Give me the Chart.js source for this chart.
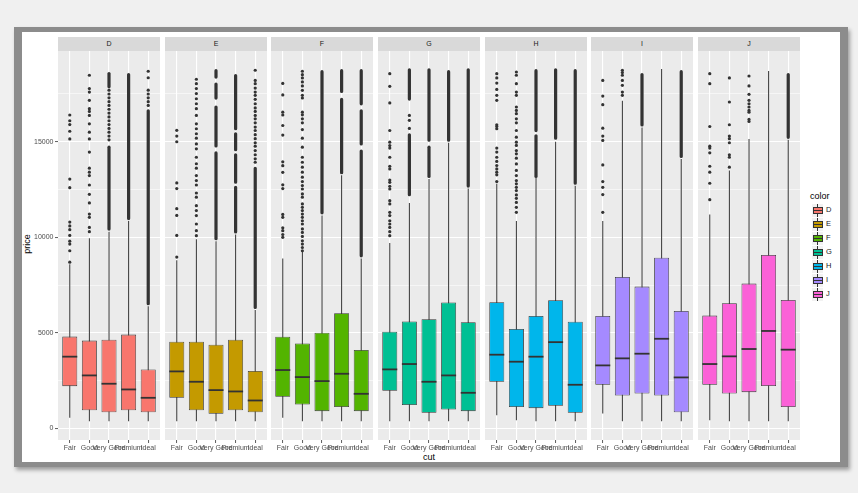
<!DOCTYPE html>
<html>
<head>
<meta charset="utf-8">
<script src="https://cdn.jsdelivr.net/npm/chart.js@4.4.1/dist/chart.umd.min.js"></script>
<style>
  html, body { margin: 0; padding: 0; }
  body {
    width: 858px; height: 493px; position: relative; overflow: hidden;
    background: #f0f0f0; font-family: "Liberation Sans", Arial, sans-serif;
  }
  #frame {
    position: absolute; left: 14px; top: 27px; width: 834px; height: 440px;
    background: #8c8c8c; box-shadow: 2px 3px 4px rgba(0,0,0,0.35);
  }
  #paper { position: absolute; left: 22px; top: 32px; width: 818px; height: 430px; background: #fff; }
  .strip {
    position: absolute; top: 37px; height: 14px; line-height: 14px; background: #d9d9d9;
    text-align: center; font-size: 7px; color: #1a1a1a;
  }
  canvas { position: absolute; top: 51px; }
  .title { position: absolute; font-size: 9px; color: #000; white-space: nowrap; }
  .key { position: absolute; left: 812px; width: 11px; height: 13px; background: #f2f2f2; }
  .key .wh { position: absolute; left: 5px; top: 0; width: 1px; height: 13px; background: #333; }
  .key .bx { position: absolute; left: 1px; top: 3px; width: 8px; height: 5px; border: 0.8px solid #333; }
  .key .md { position: absolute; left: 1px; top: 6px; width: 10px; height: 1.3px; background: #333; }
  .klab { position: absolute; left: 826px; font-size: 7.5px; color: #1a1a1a; }
</style>
</head>
<body>
<div id="frame"></div>
<div id="paper"></div>
<div class="title" id="ytitle" style="left:7px; top:239px; width:40px; text-align:center; transform:rotate(-90deg);">price</div>
<div class="title" style="left:409px; top:452px; width:40px; text-align:center;">cut</div>
<div class="title" style="left:810px; top:191px;">color</div>

<script>
// Data

const cuts   = ['Fair', 'Good', 'Very Good', 'Premium', 'Ideal'];
const colors = ['D', 'E', 'F', 'G', 'H', 'I', 'J'];
const yTickVals = [0, 2500, 5000, 7500, 10000, 12500, 15000, 17500];

// one row per color, one value per cut
const lower = [
  [561, 383, 383, 383, 383],
  [385, 385, 385, 385, 385],
  [560, 385, 385, 385, 385],
  [385, 385, 385, 385, 385],
  [694, 437, 385, 385, 385],
  [786, 385, 385, 385, 385],
  [437, 385, 385, 385, 385]
];
const q1 = [
  [2218, 960, 855, 960, 855],
  [1608, 961, 769, 961, 856],
  [1660, 1253, 909, 1125, 909],
  [1975, 1230, 821, 996, 909],
  [2447, 1125, 1066, 1188, 821],
  [2290, 1730, 1835, 1730, 856],
  [2290, 1835, 1905, 2220, 1125]
];
const median = [
  [3760, 2779, 2344, 2045, 1608],
  [2989, 2447, 2010, 1940, 1468],
  [3060, 2692, 2482, 2866, 1817],
  [3094, 3374, 2447, 2779, 1870],
  [3863, 3496, 3759, 4520, 2290],
  [3303, 3671, 3915, 4696, 2674],
  [3374, 3776, 4160, 5104, 4126]
];
const q3 = [
  [4809, 4599, 4651, 4914, 3094],
  [4545, 4545, 4387, 4650, 3007],
  [4800, 4452, 5017, 6029, 4108],
  [5069, 5600, 5716, 6590, 5566],
  [6607, 5210, 5891, 6713, 5584],
  [5891, 7932, 7424, 8935, 6153],
  [5908, 6555, 7581, 9075, 6730]
];
const upper = [
  [8600, 9950, 10300, 10850, 6400],
  [8800, 9900, 9800, 10150, 6200],
  [8900, 9250, 11150, 13250, 8900],
  [9700, 11800, 13050, 14950, 12550],
  [12800, 10850, 13100, 15000, 12700],
  [10850, 17150, 15750, 18800, 14100],
  [11200, 13500, 15150, 18700, 15100]
];

// single outlier points, per color, per cut
const outliers = [
  [ // D
    [16400, 16100, 15900, 15550, 15150, 13050, 12600, 10800, 10600, 10400, 10100, 9800, 9650, 9300, 8700],
    [18480, 17780, 17600, 17170, 16730, 16590, 16380, 15940, 15500, 15150, 14460, 13620, 13410, 13230, 12740, 12250, 11800, 11220, 11050, 10520, 10300],
    [17700, 17500, 17300, 17100, 16900, 16700, 16500, 16300, 16100, 15900, 15700, 15500, 15300, 15100],
    [],
    [18690, 18350, 17700, 17500, 17300, 17100, 16900]
  ],
  [ // E
    [15600, 15300, 15000, 12850, 12550, 11500, 11150, 10100, 8970],
    [18270, 18040, 17780, 17520, 17250, 16990, 16730, 16380, 15940, 15680, 15420, 15190, 14890, 14630, 14190, 13850, 13620, 13230, 12970, 12740, 12320, 12100, 11660, 11400, 11140, 10700, 10350, 10090],
    [],
    [],
    [18740, 18210, 18040, 17810, 17600, 17430, 17220, 16990, 16770, 16590, 16380, 16200, 15990, 15770, 15590, 15370, 15160, 14950, 14770, 14540, 14320, 14110, 13930]
  ],
  [ // F
    [18050, 17450, 16550, 16400, 15850, 15350, 13950, 13750, 13400, 12750, 12550, 11200, 11050, 10500, 10350, 10150, 10000],
    [18690, 18510, 18340, 18130, 17920, 17690, 17430, 17290, 16550, 16410, 16200, 15990, 15640, 15190, 14720, 14190, 13930, 13670, 13410, 13150, 12920, 12710, 12530, 12270, 12100, 11750, 11570, 11400, 11220, 11050, 10870, 10700, 10440, 10260, 10050, 9820, 9650, 9470, 9300],
    [],
    [],
    []
  ],
  [ // G
    [18560, 17900, 17030, 15590, 14980, 14800, 14670, 14190, 13720, 13580, 13000, 12880, 12670, 12530, 11920, 11750, 11310, 11140, 10870, 10700, 10520, 10300, 10090],
    [16380, 16120, 15700],
    [],
    [],
    []
  ],
  [ // H
    [18560, 18340, 18070, 17740, 17430, 17170, 15890, 15800, 15680, 14670, 14460, 14190, 13970, 13760, 13580, 13410, 13270, 12920],
    [18650, 18480, 18040, 17600, 17430, 16820, 16640, 16470, 16200, 15990, 15590, 15240, 14980, 14810, 14540, 14370, 14140, 13840, 13500, 13230, 12970, 12800, 12620, 12450, 12220, 12040, 11830, 11570, 11310],
    [],
    [],
    []
  ],
  [ // I
    [18210, 17390, 16940, 15710, 15300, 15070, 13790, 12920, 12620, 12240, 11310],
    [18740, 18620, 18480, 18210, 17950, 17600, 17430],
    [],
    [],
    []
  ],
  [ // J
    [18560, 18040, 15800, 14770, 14670, 14420, 13720, 13410, 12830, 11970],
    [18340, 17080, 15890, 15300, 15160, 14950, 14320, 14190, 13670],
    [18440, 17920, 17480, 17170, 16990, 16820, 16640, 16550, 16170, 16060],
    [],
    []
  ]
];

// stretches where outliers are packed into a solid column: [from, to]
const outlierRuns = [
  [[], [], [[10350, 14800], [17800, 18650]], [[10900, 18600]], [[6450, 16700]]],
  [[], [], [[9850, 14500], [14700, 16900], [17200, 18100], [18300, 18800]], [[10200, 12700], [12800, 14400], [14500, 15500], [15600, 18550]], [[6250, 13700]]],
  [[], [], [[11200, 18750]], [[13300, 17300], [17550, 18800]], [[8950, 14600], [14800, 16700], [16900, 18800]]],
  [[], [[12150, 15450], [17150, 18850]], [[13100, 14800], [15000, 18850]], [[15000, 18750]], [[12600, 18850]]],
  [[], [], [[13100, 15400], [15500, 18800]], [[15100, 18850]], [[12750, 18800]]],
  [[], [], [[15800, 18600]], [], [[14150, 18750]]],
  [[], [], [], [], [[15150, 18600]]]
];

// Style

const fills = ['#F8766D', '#C49A00', '#53B400', '#00C094', '#00B6EB', '#A58AFF', '#FB61D7'];
const panelLefts = [58, 165, 271, 378, 485, 591, 698];
const panelWidth = 102;
const ink = '#333333';

Chart.defaults.font.family = '"Liberation Sans", Arial, sans-serif';
Chart.defaults.font.size = 7;
Chart.defaults.color = '#4D4D4D';

const panelBg = {
  id: 'panelBg',
  beforeDraw(chart) {
    const { ctx, chartArea: a } = chart;
    ctx.save();
    ctx.fillStyle = '#EBEBEB';
    ctx.fillRect(a.left, a.top, a.width, a.height);
    ctx.restore();
  }
};

const isMajor = v => v % 5000 === 0;
const isCut = v => Number.isInteger(v) && v >= 1 && v <= cuts.length;

function buildDatasets(ci) {
  const meds = [], boxes = [], whiskers = [], pts = [], bands = [];
  cuts.forEach((c, k) => {
    const x = k + 1;
    whiskers.push({ x, y: [lower[ci][k], upper[ci][k]] });
    boxes.push({ x, y: [q1[ci][k], q3[ci][k]] });
    meds.push({ x, y: median[ci][k] });
    outliers[ci][k].forEach(v => pts.push({ x, y: v }));
    outlierRuns[ci][k].forEach(r => bands.push({ x, y: r }));
  });
  return [
    { type: 'scatter', data: meds, pointStyle: 'line', pointRadius: 7.5,
      pointBorderColor: ink, pointBorderWidth: 1.8 },
    { type: 'bar', data: boxes, backgroundColor: fills[ci], borderColor: ink,
      borderWidth: 0.8, borderSkipped: false, barThickness: 15, grouped: false, inflateAmount: 0 },
    { type: 'scatter', data: pts, pointRadius: 1.6, pointBackgroundColor: ink, pointBorderWidth: 0 },
    { type: 'bar', data: bands, backgroundColor: ink, barThickness: 3.2, borderRadius: 1.6,
      borderSkipped: false, grouped: false, inflateAmount: 0 },
    { type: 'bar', data: whiskers, backgroundColor: ink, barThickness: 1, grouped: false, inflateAmount: 0 }
  ];
}

function makePanel(ci) {
  const first = ci === 0;
  const left = first ? 22 : panelLefts[ci];
  const width = first ? panelLefts[0] - 22 + panelWidth : panelWidth;

  const strip = document.createElement('div');
  strip.className = 'strip';
  strip.style.left = panelLefts[ci] + 'px';
  strip.style.width = panelWidth + 'px';
  strip.textContent = colors[ci];
  document.body.appendChild(strip);

  const canvas = document.createElement('canvas');
  canvas.width = width;
  canvas.height = 402;
  canvas.style.left = left + 'px';
  document.body.appendChild(canvas);

  new Chart(canvas, {
    type: 'bar',
    data: { datasets: buildDatasets(ci) },
    options: {
      responsive: false,
      animation: false,
      devicePixelRatio: 1,
      events: [],
      layout: { padding: 0, autoPadding: false },
      plugins: { legend: { display: false }, tooltip: { enabled: false } },
      scales: {
        x: {
          type: 'linear', min: 0.4, max: 5.6, offset: false,
          afterBuildTicks: s => { s.ticks = cuts.map((c, k) => ({ value: k + 1 })); },
          afterFit: s => { s.height = 13; s.paddingLeft = 0; s.paddingRight = 0; },
          ticks: { autoSkip: false, maxRotation: 0, minRotation: 0, padding: 1,
                   callback: v => isCut(v) ? cuts[v - 1] : '' },
          grid: {
            offset: false,
            color: ctx => ctx.tick && isCut(ctx.tick.value) ? '#FFFFFF' : 'rgba(0,0,0,0)',
            lineWidth: 1.1,
            tickColor: ctx => ctx.tick && isCut(ctx.tick.value) ? ink : 'rgba(0,0,0,0)',
            tickLength: 3, tickWidth: 0.8
          },
          border: { display: false }
        },
        y: {
          type: 'linear', min: -599, max: 19748,
          afterBuildTicks: s => { s.ticks = yTickVals.map(v => ({ value: v })); },
          afterFit: s => {
            s.width = first ? panelLefts[0] - 22 : 0;
            s.paddingTop = 0; s.paddingBottom = 0;
          },
          ticks: { display: first, padding: 1.5, callback: v => isMajor(v) ? String(v) : '' },
          grid: {
            color: '#FFFFFF',
            lineWidth: ctx => isMajor(ctx.tick.value) ? 1.1 : 0.55,
            drawTicks: first,
            tickLength: 3,
            tickWidth: 0.8,
            tickColor: ctx => isMajor(ctx.tick.value) ? ink : 'rgba(0,0,0,0)'
          },
          border: { display: false }
        }
      }
    },
    plugins: [panelBg]
  });
}

function makeLegend() {
  colors.forEach((c, k) => {
    const top = 210 + k * 14.05;
    const key = document.createElement('div');
    key.className = 'key';
    key.style.top = (top - 6.5) + 'px';
    key.innerHTML = `<div class="wh"></div><div class="bx" style="background:${fills[k]}"></div><div class="md"></div>`;
    document.body.appendChild(key);

    const lab = document.createElement('div');
    lab.className = 'klab';
    lab.style.top = (top - 5) + 'px';
    lab.textContent = c;
    document.body.appendChild(lab);
  });
}

colors.forEach((c, ci) => makePanel(ci));
makeLegend();
</script>
</body>
</html>
